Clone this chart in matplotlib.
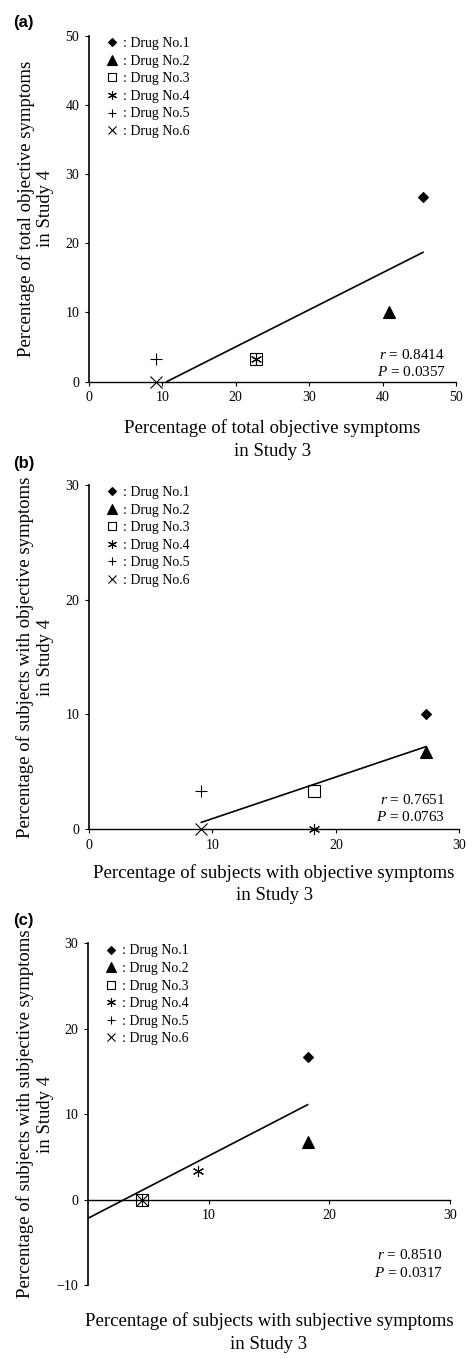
import matplotlib.pyplot as plt

plt.rcParams['font.family'] = 'Liberation Serif'
plt.rcParams['mathtext.fontset'] = 'custom'
plt.rcParams['mathtext.rm'] = 'Liberation Serif'
plt.rcParams['mathtext.it'] = 'Liberation Serif:italic'

# Drugs shown in every panel
drugs = ['Drug No.1', 'Drug No.2', 'Drug No.3', 'Drug No.4', 'Drug No.5', 'Drug No.6']

# (a) total objective symptoms
a_x = [45.5, 40.9, 22.7, 22.7, 9.1, 9.1]
a_y = [26.7, 10.0, 3.3, 3.3, 3.3, 0.0]
a_fit_x = [10.6, 45.5]
a_fit_y = [0.0, 18.7]
a_r, a_p = '0.8414', '0.0357'

# (b) subjects with objective symptoms
b_x = [27.3, 27.3, 18.2, 18.2, 9.1, 9.1]
b_y = [10.0, 6.7, 3.3, 0.0, 3.3, 0.0]
b_fit_x = [9.1, 27.3]
b_fit_y = [0.6, 7.2]
b_r, b_p = '0.7651', '0.0763'

# (c) subjects with subjective symptoms
c_x = [18.2, 18.2, 4.5, 9.1, 4.5, 4.5]
c_y = [16.7, 6.7, 0.0, 3.3, 0.0, 0.0]
c_fit_x = [0.0, 18.2]
c_fit_y = [-2.2, 11.1]
c_r, c_p = '0.8510', '0.0317'

# marker style per drug
markers = ['D', '^', 's', (6, 2, 0), '+', 'x']
msizes = [5.5, 8.5, 8, 8, 8, 8]
filled = [True, True, False, False, False, False]

fig = plt.figure(figsize=(4.72, 13.59), dpi=100)

panels = [
    dict(tag='(a)', tag_y=0.9838, rect=[0.1886, 0.7192, 0.7775, 0.2543],
         x=a_x, y=a_y, fx=a_fit_x, fy=a_fit_y, r=a_r, p=a_p,
         xlim=(0, 50), ylim=(0, 50), xticks=[0, 10, 20, 30, 40, 50],
         yticks=[0, 10, 20, 30, 40, 50],
         xlabel='Percentage of total objective symptoms\nin Study 3',
         ylabel='Percentage of total objective symptoms\nin Study 4',
         stat_pos=(0.970, 0.077, 0.028), xlab_y=-0.108),
    dict(tag='(b)', tag_y=0.659, rect=[0.1886, 0.3898, 0.7845, 0.2534],
         x=b_x, y=b_y, fx=b_fit_x, fy=b_fit_y, r=b_r, p=b_p,
         xlim=(0, 30), ylim=(0, 30), xticks=[0, 10, 20, 30],
         yticks=[0, 10, 20, 30],
         xlabel='Percentage of subjects with objective symptoms\nin Study 3',
         ylabel='Percentage of subjects with objective symptoms\nin Study 4',
         stat_pos=(0.961, 0.085, 0.035), xlab_y=-0.100),
    dict(tag='(c)', tag_y=0.323, rect=[0.1864, 0.0545, 0.767, 0.2514],
         x=c_x, y=c_y, fx=c_fit_x, fy=c_fit_y, r=c_r, p=c_p,
         xlim=(0, 30), ylim=(-10, 30), xticks=[10, 20, 30],
         yticks=[-10, 0, 10, 20, 30],
         xlabel='Percentage of subjects with subjective symptoms\nin Study 3',
         ylabel='Percentage of subjects with subjective symptoms\nin Study 4',
         stat_pos=(0.98, 0.088, 0.036), xlab_y=-0.080),
]

for pn in panels:
    ax = fig.add_axes(pn['rect'])
    for i, name in enumerate(drugs):
        ax.plot(pn['x'][i], pn['y'][i], linestyle='none', marker=markers[i],
                markersize=msizes[i], color='black',
                markerfacecolor='black' if filled[i] else 'none',
                markeredgewidth=0.8, label=': ' + name, clip_on=False, zorder=3)
    ax.plot(pn['fx'], pn['fy'], color='black', linewidth=1.2)

    ax.set_xlim(pn['xlim'])
    ax.set_ylim(pn['ylim'])
    ax.set_xticks(pn['xticks'])
    ax.set_yticks(pn['yticks'])
    ax.tick_params(direction='out', length=3, width=0.8, labelsize=10, pad=4)
    for s in ['top', 'right']:
        ax.spines[s].set_visible(False)
    ax.spines['bottom'].set_position(('data', 0))
    ax.spines['left'].set_linewidth(1.2)
    ax.spines['bottom'].set_linewidth(1.0)

    ax.set_xlabel(pn['xlabel'], fontsize=13.5, linespacing=1.45)
    ax.xaxis.set_label_coords(0.5, pn['xlab_y'])
    ax.set_ylabel(pn['ylabel'], fontsize=13.5, linespacing=1.2)
    ax.yaxis.set_label_coords(-0.095, 0.5)

    sx, sr, sp = pn['stat_pos']
    ax.text(sx, sr, '$r$ = ' + pn['r'], transform=ax.transAxes, ha='right',
            va='center', fontsize=11)
    ax.text(sx, sp, '$P$ = ' + pn['p'], transform=ax.transAxes, ha='right',
            va='center', fontsize=11)

    ax.legend(loc='upper left', bbox_to_anchor=(0.025, 1.017), frameon=False,
              fontsize=10, markerscale=0.8, handlelength=1.0,
              handletextpad=0.3, labelspacing=0.33, borderpad=0)

    fig.text(0.0275, pn['tag_y'], pn['tag'], fontsize=12, fontweight='bold',
             family='Liberation Sans', va='center', ha='left')

fig.savefig('out.png', dpi=100)
